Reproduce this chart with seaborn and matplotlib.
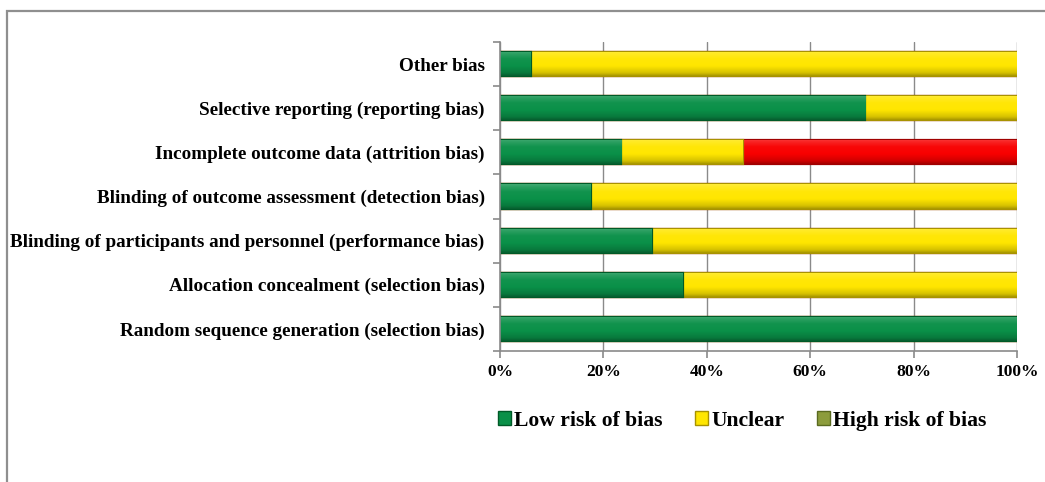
import matplotlib
matplotlib.use("Agg")
import matplotlib.pyplot as plt
from matplotlib.colors import to_rgb
from matplotlib.patches import Patch, Rectangle
from matplotlib.ticker import FixedLocator, PercentFormatter
import numpy as np
import pandas as pd
import seaborn as sns

# Risk-of-bias domains, listed top to bottom
domains = [
    "Other bias",
    "Selective reporting (reporting bias)",
    "Incomplete outcome data (attrition bias)",
    "Blinding of outcome assessment (detection bias)",
    "Blinding of participants and personnel (performance bias)",
    "Allocation concealment (selection bias)",
    "Random sequence generation (selection bias)",
]
# Share of studies (%) per judgement
low_risk = [5.9, 70.6, 23.5, 17.6, 29.4, 35.3, 100.0]
unclear = [94.1, 29.4, 23.5, 82.4, 70.6, 64.7, 0.0]
high_risk = [0.0, 0.0, 52.9, 0.0, 0.0, 0.0, 0.0]
legend_labels = ["Low risk of bias", "Unclear", "High risk of bias"]
x_ticks = [0, 20, 40, 60, 80, 100]

df = pd.DataFrame({"domain": domains, "low": low_risk,
                   "unclear": unclear, "high": high_risk})
df["low_unclear"] = df["low"] + df["unclear"]
df["total"] = df["low_unclear"] + df["high"]

sns.set_theme(style="white")
plt.rcParams["font.family"] = ["Liberation Serif", "DejaVu Serif"]
plt.rcParams["font.weight"] = "bold"
plt.rcParams["text.color"] = "black"

fig = plt.figure(figsize=(10.45, 4.82), dpi=100)
ax = fig.add_axes([500 / 1045, 1 - 351 / 482, 517 / 1045, 309 / 482])

green, green_edge = "#0a9048", "#005a28"
yellow, yellow_edge = "#ffe600", "#a89200"
red, red_edge = "#f80000", "#a00000"
olive = "#8c9c3c"

# Stacked bars: draw cumulative totals back to front
for col, face, edge in [("total", red, red_edge),
                        ("low_unclear", yellow, yellow_edge),
                        ("low", green, green_edge)]:
    sns.barplot(data=df, y="domain", x=col, order=domains, orient="h",
                color=face, saturation=1, width=0.55, edgecolor=edge,
                linewidth=1.6, ax=ax)


def bevel(rgb, n=40):
    """Vertical shading: bright rim at top, darker towards the bottom."""
    base = np.array(rgb)
    t = np.linspace(0, 1, n)
    shade = np.interp(t, [0, 0.1, 0.3, 0.6, 0.88, 1.0],
                      [0.22, 0.14, 0.03, 0.0, -0.16, -0.34])
    out = np.empty((n, 1, 3))
    for i, s in enumerate(shade):
        out[i, 0] = base + (1 - base) * s if s > 0 else base * (1 + s)
    return np.clip(out, 0, 1)


# Shade each segment; each segment's outline stays above the one behind it
bars = [p for p in ax.patches if isinstance(p, Rectangle) and p.get_width() > 0]
for k, p in enumerate(bars):
    p.set_zorder(2 + 2 * k)
    x0, y0, w, h = p.get_x(), p.get_y(), p.get_width(), p.get_height()
    im = ax.imshow(bevel(to_rgb(p.get_facecolor())), aspect="auto",
                   extent=[x0, x0 + w, y0 + h, y0], origin="upper",
                   interpolation="bilinear", zorder=3 + 2 * k)
    im.set_clip_path(p)

ax.set_xlim(0, 100)
ax.set_ylim(6.5, -0.5)
ax.set_xlabel("")
ax.set_ylabel("")
ax.xaxis.set_major_locator(FixedLocator(x_ticks))
ax.xaxis.set_major_formatter(PercentFormatter(decimals=0))
ax.grid(axis="x", color="#8a8a8a", linewidth=1.0, zorder=0)
ax.set_axisbelow(True)

for s in ["top", "right"]:
    ax.spines[s].set_visible(False)
for s in ["left", "bottom"]:
    ax.spines[s].set_color("#8a8a8a")
    ax.spines[s].set_linewidth(1.2)
    ax.spines[s].set_zorder(100)

ax.yaxis.set_minor_locator(FixedLocator(np.arange(-0.5, 7.0, 1.0)))
ax.tick_params(axis="y", which="major", length=0, pad=11, labelsize=13.8)
ax.tick_params(axis="y", which="minor", left=True, length=5,
               color="#8a8a8a", width=1.2)
ax.tick_params(axis="x", which="major", bottom=True, length=5,
               color="#8a8a8a", width=1.2, pad=4, labelsize=12.6)
for lbl in ax.get_yticklabels() + ax.get_xticklabels():
    lbl.set_fontweight("bold")
    lbl.set_color("black")

handles = [Patch(facecolor=green, edgecolor=green_edge),
           Patch(facecolor=yellow, edgecolor=yellow_edge),
           Patch(facecolor=olive, edgecolor="#5a6a20")]
leg = fig.legend(handles, legend_labels, loc="center",
                 bbox_to_anchor=(742 / 1045, 1 - 421 / 482), ncol=3,
                 frameon=False, handlelength=0.6, handleheight=0.6,
                 handletextpad=0.15, columnspacing=1.5,
                 prop={"size": 15.6, "weight": "bold"})
for t in leg.get_texts():
    t.set_color("black")

# Outer chart frame
fig.patches.append(Rectangle((6.5 / 1045, -0.1), 1.2, 1.1 - 11 / 482,
                             transform=fig.transFigure, fill=False,
                             edgecolor="#8f8f8f", linewidth=1.6))

fig.savefig("out.png", dpi=100)
